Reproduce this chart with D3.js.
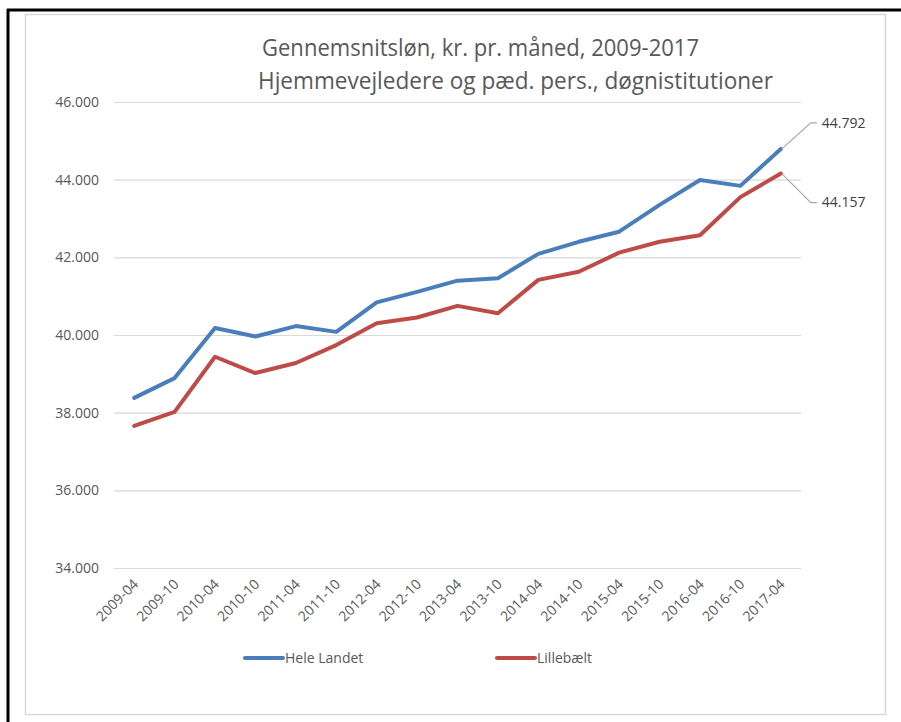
<!DOCTYPE html>
<html>
<head>
<meta charset="utf-8">
<script src="https://cdn.jsdelivr.net/npm/d3@7"></script>
<style>
  html, body { margin: 0; padding: 0; background: #fff; }
  svg { display: block; font-family: "Open Sans", sans-serif; }
</style>
</head>
<body>
<svg id="LineChart"></svg>
<script>
const periods = ["2009-04", "2009-10", "2010-04", "2010-10", "2011-04", "2011-10", "2012-04", "2012-10",
  "2013-04", "2013-10", "2014-04", "2014-10", "2015-04", "2015-10", "2016-04", "2016-10", "2017-04"];
const heleLandet = [38380, 38890, 40180, 39960, 40230, 40080, 40840, 41110, 41400, 41460,
  42090, 42400, 42660, 43350, 43990, 43840, 44792];
const lillebaelt = [37660, 38020, 39440, 39020, 39280, 39740, 40300, 40450, 40750, 40560,
  41420, 41630, 42120, 42400, 42570, 43550, 44157];
const yTicks = [34000, 36000, 38000, 40000, 42000, 44000, 46000];
const seriesNames = ["Hele Landet", "Lillebælt"];
const titleLines = ["Gennemsnitsløn, kr. pr. måned, 2009-2017",
  "Hjemmevejledere og pæd. pers., døgnistitutioner"];

document.addEventListener('DOMContentLoaded', function () {
  const W = 901, H = 722;
  const plot = { left: 114, right: 801, top: 102, bottom: 568 };

  const svg = d3.select("#LineChart").attr("width", W).attr("height", H);

  // frame: black top/left edge + light inner border
  svg.append("rect").attr("x", 25.5).attr("y", 14.5).attr("width", 860).attr("height", 700)
    .attr("fill", "#fff").attr("stroke", "#d9d9d9").attr("stroke-width", 1.5);
  svg.append("line").attr("x1", 7).attr("x2", W).attr("y1", 10).attr("y2", 10)
    .attr("stroke", "#000").attr("stroke-width", 3);
  svg.append("line").attr("x1", 8).attr("x2", 8).attr("y1", 9).attr("y2", H)
    .attr("stroke", "#000").attr("stroke-width", 3);

  // title
  const title = svg.append("g").attr("fill", "#595959").style("font-size", "23px");
  title.append("text").attr("x", 262).attr("y", 56).text(titleLines[0])
    .attr("textLength", 437).attr("lengthAdjust", "spacingAndGlyphs");
  title.append("text").attr("x", 258).attr("y", 89).text(titleLines[1])
    .attr("textLength", 515).attr("lengthAdjust", "spacingAndGlyphs");

  const locale = d3.formatLocale({ decimal: ",", thousands: ".", grouping: [3], currency: ["", ""] });
  const fmt = locale.format(",.0f");

  const x = d3.scaleBand().domain(periods).range([plot.left, plot.right]);
  const cx = d => x(d) + x.bandwidth() / 2;
  const y = d3.scaleLinear().domain([34000, 46000]).range([plot.bottom, plot.top]);

  // gridlines + y labels
  const yAxis = svg.append("g")
    .attr("transform", `translate(${plot.left},0)`)
    .call(d3.axisLeft(y).tickValues(yTicks).tickFormat(fmt).tickSize(-(plot.right - plot.left)).tickPadding(15));
  yAxis.select(".domain").remove();
  yAxis.selectAll(".tick line").attr("stroke", "#d9d9d9").attr("stroke-width", 1.2);
  yAxis.selectAll(".tick text").attr("fill", "#595959").style("font-size", "14px")
    .style("font-family", "'Open Sans', sans-serif");

  // x labels
  const xAxis = svg.append("g")
    .attr("transform", `translate(0,${plot.bottom})`)
    .call(d3.axisBottom(x).tickSize(0).tickPadding(0));
  xAxis.select(".domain").remove();
  xAxis.selectAll(".tick text")
    .attr("fill", "#595959").style("font-size", "14px")
    .style("font-family", "'Open Sans', sans-serif")
    .attr("text-anchor", "end")
    .attr("dy", "0")
    .attr("transform", "translate(5,17) rotate(-45)");

  const colors = ["#4a7ebb", "#be4b48"];
  const series = [heleLandet, lillebaelt];
  const line = d3.line().x((d, i) => cx(periods[i])).y(d => y(d));

  series.forEach((vals, s) => {
    svg.append("path").datum(vals)
      .attr("d", line)
      .attr("fill", "none")
      .attr("stroke", colors[s])
      .attr("stroke-width", 4)
      .attr("stroke-linejoin", "round")
      .attr("stroke-linecap", "round");
  });

  // end labels with leader lines
  const last = periods.length - 1;
  const labelOffsets = [-26, 29];
  series.forEach((vals, s) => {
    const px = cx(periods[last]), py = y(vals[last]);
    const ly = py + labelOffsets[s];
    svg.append("polyline")
      .attr("points", `${px + 1},${py} ${px + 30},${ly} ${px + 36},${ly}`)
      .attr("fill", "none").attr("stroke", "#a6a6a6").attr("stroke-width", 1.2);
    svg.append("text")
      .attr("x", px + 41).attr("y", ly).attr("dy", "0.35em")
      .attr("fill", "#404040").style("font-size", "14px")
      .text(fmt(vals[last]));
  });

  // legend
  const legendX = [245, 497];
  seriesNames.forEach((name, s) => {
    const g = svg.append("g").attr("transform", `translate(${legendX[s]},658)`);
    g.append("line").attr("x1", 0).attr("x2", 38).attr("y1", 0).attr("y2", 0)
      .attr("stroke", colors[s]).attr("stroke-width", 4).attr("stroke-linecap", "round");
    g.append("text").attr("x", 40).attr("y", 0).attr("dy", "0.35em")
      .attr("fill", "#595959").style("font-size", "14px").text(name);
  });
});
</script>
</body>
</html>
